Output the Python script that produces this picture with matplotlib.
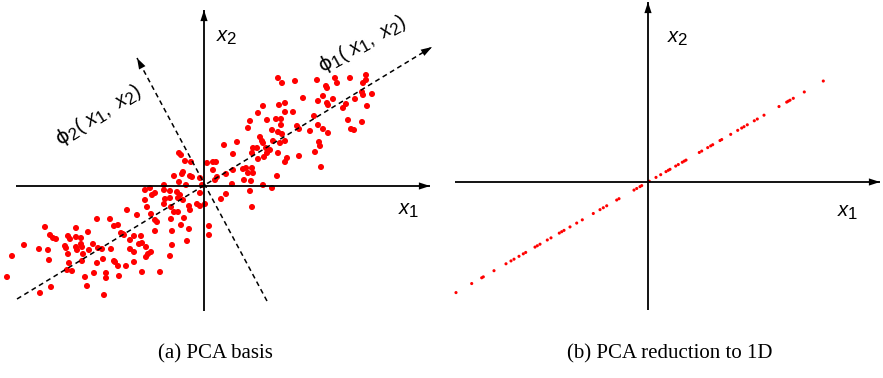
import matplotlib
matplotlib.use('Agg')
import matplotlib.pyplot as plt
import matplotlib._mathtext as _mt

# ---------------- data ----------------
# (a) original 2-D samples (x1, x2)
pts_x1 = [
    -1.97, -1.92, -1.80, -1.65, -1.59, -1.56, -1.55, -1.54, -1.51, -1.48,
    -1.64, -1.53, -1.39, -1.38, -1.36, -1.36, -1.34, -1.35, -1.37, -1.32,
    -1.28, -1.28, -1.28, -1.27, -1.23, -1.23, -1.22, -1.21, -1.22, -1.16,
    -1.15, -1.11, -1.19, -1.17, -1.10, -1.07, -1.07, -1.06, -1.02, -1.01,
    -0.98, -0.98, -1.00, -0.94, -0.93, -0.90, -0.86, -0.90, -0.89, -0.86,
    -0.85, -0.83, -0.81, -0.80, -0.78, -0.77, -0.74, -0.74, -0.70, -0.70,
    -0.70, -0.67, -0.65, -0.63, -0.62, -0.62, -0.58, -0.58, -0.56, -0.53,
    -0.59, -0.54, -0.59, -0.57, -0.52, -0.49, -0.53, -0.49, -0.47, -0.49,
    -0.44, -0.40, -0.40, -0.39, -0.40, -0.34, -0.34, -0.33, -0.30, -0.33,
    -0.32, -0.32, -0.34, -0.27, -0.24, -0.26, -0.26, -0.25, -0.23, -0.21,
    -0.20, -0.18, -0.15, -0.14, -0.15, -0.17, -0.07, -0.04, -0.04, -0.02,
    0.01, 0.05, 0.05,
    -0.25, -0.23, -0.19, -0.13, -0.30, -0.22, -0.21, -0.14, -0.12, -0.04,
    0.22, 0.17, 0.13,
    0.74, 0.78, 0.91, 1.13, 1.22, 1.23, 1.31, 1.33, 1.46, 1.62,
    1.62, 1.59, 1.58, 1.59, 1.68, 1.63, 1.51, 1.42, 1.39, 1.44,
    1.47, 1.50, 1.58, 1.29, 1.23, 1.24, 1.14, 1.19, 0.99, 1.10,
    1.14, 1.19, 1.24, 1.15, 1.16, 1.11, 1.06, 0.95, 0.93, 0.89,
    0.81, 0.75, 0.81, 0.72, 0.77, 0.77, 0.74, 0.78, 0.81, 0.76,
    0.74, 0.83, 0.81, 0.95, 0.59, 0.54, 0.46, 0.44, 0.63, 0.68,
    0.69, 0.56, 0.58, 0.59, 0.49, 0.53, 0.62, 0.66, 0.63, 0.60,
    0.54, 0.33, 0.20, 0.29, 0.48, 0.09, 0.12, 0.03, 0.09, 0.29,
    0.39, 0.42, 0.48, 0.44, 0.49, 0.22, 0.11, 0.40, 0.47, 0.73,
    0.28,
    0.46, 0.59, 0.68, 1.17, 0.48,
]
pts_x2 = [
    -0.91, -0.70, -0.59, -0.63, -0.41, -0.64, -0.74, -0.49, -0.52, -0.53,
    -1.07, -1.01, -0.60, -0.62, -0.68, -0.50, -0.53, -0.77, -0.84, -0.85,
    -0.51, -0.42, -0.61, -0.64, -0.52, -0.58, -0.61, -0.68, -0.75, -0.46,
    -0.64, -0.58, -0.91, -1.00, -0.87, -0.77, -0.33, -0.62, -0.63, -0.73,
    -0.87, -0.92, -1.09, -0.33, -0.63, -0.40, -0.39, -0.75, -0.76, -0.80,
    -0.90, -0.47, -0.48, -0.49, -0.80, -0.24, -0.54, -0.63, -0.50, -0.66,
    -0.76, -0.29, -0.58, -0.50, -0.57, -0.86, -0.61, -0.71, -0.68, -0.66,
    -0.04, -0.02, -0.14, -0.21, -0.09, -0.07, -0.28, -0.34, -0.36, -0.45,
    -0.86, 0.01, -0.04, -0.13, -0.18, -0.05, -0.12, -0.21, -0.26, -0.33,
    -0.45, -0.59, -0.70, -0.06, -0.09, -0.26, -0.12, 0.04, -0.39, -0.14,
    -0.32, 0.01, -0.20, -0.24, -0.43, -0.55, -0.18, -0.20, -0.07, 0.01,
    -0.18, -0.40, -0.49,
    0.33, 0.31, 0.25, 0.24, 0.10, 0.12, 0.14, 0.10, 0.09, 0.08,
    -0.08, -0.13, 0.09,
    1.08, 1.03, 1.05, 1.06, 1.00, 0.98, 1.08, 1.03, 1.08, 1.11,
    1.06, 1.03, 0.94, 0.91, 0.92, 0.80, 0.87, 0.82, 0.78, 0.66,
    0.57, 0.56, 0.64, 0.87, 0.83, 0.81, 0.85, 0.90, 0.88, 0.70,
    0.61, 0.57, 0.53, 0.44, 0.40, 0.34, 0.55, 0.57, 0.60, 0.74,
    0.83, 0.81, 0.74, 0.67, 0.67, 0.61, 0.54, 0.52, 0.45, 0.43,
    0.33, 0.28, 0.24, 0.30, 0.80, 0.73, 0.65, 0.58, 0.66, 0.56,
    0.45, 0.49, 0.45, 0.43, 0.38, 0.38, 0.38, 0.36, 0.33, 0.29,
    0.27, 0.44, 0.41, 0.32, 0.33, 0.24, 0.24, 0.23, 0.16, 0.16,
    0.17, 0.18, 0.18, 0.13, 0.13, 0.12, 0.06, 0.06, 0.05, 0.10,
    0.02,
    -0.05, 0.01, -0.02, 0.19, -0.21,
]

# principal directions (end points of the drawn basis vectors)
phi1_tail, phi1_tip = (-1.87, -1.13), (2.28, 1.39)
phi2_tail, phi2_tip = (0.63, -1.15), (-0.67, 1.28)

# (b) samples reduced to 1-D: x1 coordinate of each reconstructed point
reduced_x1 = [
    -1.920, -1.763, -1.663, -1.647, -1.540, -1.420, -1.370, -1.340, -1.290, -1.247,
    -1.223, -1.130, -1.107, -1.080, -1.007, -0.970, -0.887, -0.863, -0.840, -0.780,
    -0.713, -0.657, -0.547, -0.480, -0.447, -0.413, -0.313, -0.290, -0.140, -0.113,
    -0.080, -0.063, 0.013, 0.080, 0.127, 0.180, 0.203, 0.220, 0.277, 0.303,
    0.343, 0.363, 0.380, 0.513, 0.537, 0.597, 0.627, 0.647, 0.720, 0.737,
    0.827, 0.897, 0.937, 0.960, 0.993, 1.063, 1.093, 1.160, 1.310, 1.387,
    1.403, 1.420, 1.453, 1.563, 1.753,
]
reduced_slope = 0.576   # x2 / x1 along the first principal direction
reduced_x2 = [reduced_slope * v for v in reduced_x1]

captions = ['(a) PCA basis', '(b) PCA reduction to 1D']

# ---------------- style ----------------
_mt.SHRINK_FACTOR = 0.84   # larger sub-scripts, as in the reference
plt.rcParams['mathtext.fontset'] = 'custom'
plt.rcParams['mathtext.rm'] = 'Liberation Sans'
plt.rcParams['mathtext.it'] = 'Liberation Sans:italic'
plt.rcParams['mathtext.sf'] = 'DejaVu Sans'
plt.rcParams['font.family'] = ['Liberation Sans', 'DejaVu Sans']

W, H = 883, 378
fig = plt.figure(figsize=(W / 100, H / 100), dpi=100)


def add_axes_px(x0, y0, x1, y1):
    ax = fig.add_axes([x0 / W, 1 - y1 / H, (x1 - x0) / W, (y1 - y0) / H])
    ax.set_axis_off()
    return ax


axA = add_axes_px(0, 0, 440, 330)
axA.set_xlim(-2.04, 2.36)
axA.set_ylim(-1.44, 1.86)
axB = add_axes_px(440, 0, 883, 330)
axB.set_xlim(-2.08, 2.35)
axB.set_ylim(-1.48, 1.82)

HEAD = '-|>,head_length=0.8,head_width=0.26'


def arrow_line(ax, tail, tip, dashed=False, lw=1.3):
    ls = (0, (3.2, 2.4)) if dashed else '-'
    ax.plot([tail[0], tip[0]], [tail[1], tip[1]], color='k', lw=lw, ls=ls,
            solid_capstyle='butt', dash_capstyle='butt', zorder=3)
    back = (tip[0] - (tip[0] - tail[0]) * 0.06, tip[1] - (tip[1] - tail[1]) * 0.06)
    ax.annotate('', xy=tip, xytext=back,
                arrowprops=dict(arrowstyle=HEAD, color='k', lw=0,
                                shrinkA=0, shrinkB=0, mutation_scale=10),
                zorder=4)


LAB = 14.5

# ---- panel (a) ----
axA.scatter(pts_x1, pts_x2, s=19, c='#ff0000', edgecolors='none', zorder=2)
arrow_line(axA, (-1.88, 0), (2.26, 0))
arrow_line(axA, (0, -1.25), (0, 1.76))
arrow_line(axA, phi1_tail, phi1_tip, dashed=True, lw=1.1)
arrow_line(axA, phi2_tail, phi2_tip, dashed=True, lw=1.1)
axA.text(0.12, 1.44, r'$x_2$', fontsize=LAB, ha='left', va='baseline')
axA.text(1.94, -0.29, r'$x_1$', fontsize=LAB, ha='left', va='baseline')
axA.text(1.58, 1.42, r'$\mathsf{\phi}_1(\ x_1,\ x_2)$', fontsize=LAB,
         ha='center', va='center', rotation=29, rotation_mode='anchor')
axA.text(-1.06, 0.71, r'$\mathsf{\phi}_2(\ x_1,\ x_2)$', fontsize=LAB,
         ha='center', va='center', rotation=32, rotation_mode='anchor')

# ---- panel (b) ----
axB.scatter(reduced_x1, reduced_x2, s=5, c='#ff0000', edgecolors='none', zorder=2)
arrow_line(axB, (-1.93, 0), (2.32, 0))
arrow_line(axB, (0, -1.28), (0, 1.80))
axB.text(0.19, 1.39, r'$x_2$', fontsize=LAB, ha='left', va='baseline')
axB.text(1.89, -0.35, r'$x_1$', fontsize=LAB, ha='left', va='baseline')

# ---- captions ----
for cx, txt in zip([215 / W, 670 / W], captions):
    fig.text(cx, 1 - 354 / H, txt, fontsize=15, ha='center', va='center',
             family=['Liberation Serif', 'DejaVu Serif'])

fig.savefig('out.png', dpi=100)
